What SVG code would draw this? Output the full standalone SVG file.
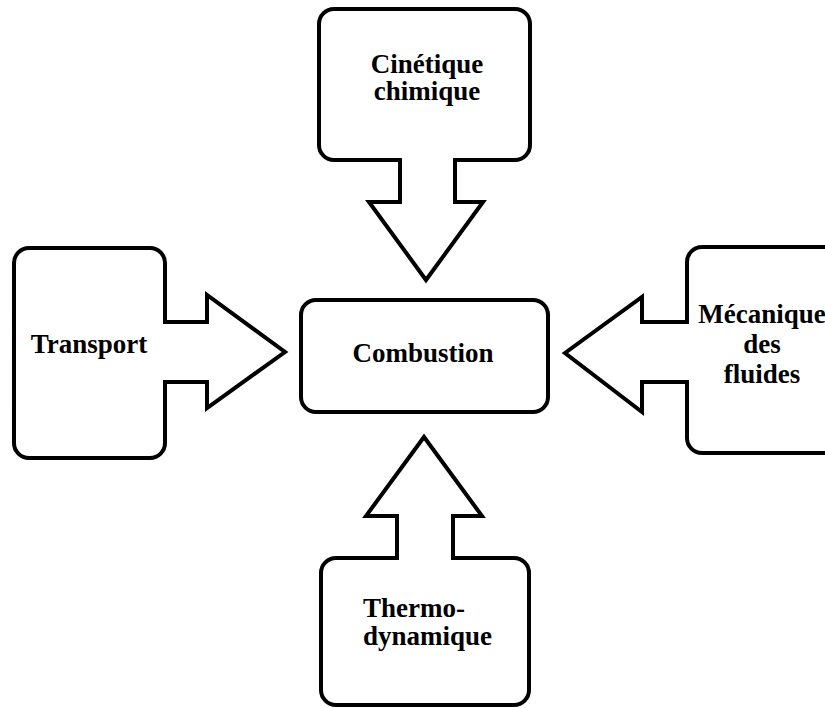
<svg xmlns="http://www.w3.org/2000/svg" width="825" height="708" viewBox="0 0 825 708">
<style>
.shape{fill:#fff;stroke:#000;stroke-width:4;stroke-linejoin:miter}
.lbl{font-family:"Liberation Serif","Times New Roman",serif;font-weight:bold;font-size:27px;fill:#000}
.c{text-anchor:middle}
</style>
<rect width="825" height="708" fill="#fff"/>
<g id="connectors"></g>
<g id="cinetique">
<path class="shape" d="M334,9 H515 A15,15 0 0 1 530,24 V145 A15,15 0 0 1 515,160 H455 V202 H483 L426,280 L369,202 H400 V160 H334 A15,15 0 0 1 319,145 V24 A15,15 0 0 1 334,9 Z"/>
<text class="lbl c" x="427" y="73">Cinétique</text>
<text class="lbl c" x="427" y="100">chimique</text>
</g>
<g id="transport">
<path class="shape" d="M29,248 H150 A15,15 0 0 1 165,263 V322 H207 V295 L285,352 L207,408 V382 H165 V443 A15,15 0 0 1 150,458 H29 A15,15 0 0 1 14,443 V263 A15,15 0 0 1 29,248 Z"/>
<text class="lbl c" x="89" y="353">Transport</text>
</g>
<g id="mecanique">
<path class="shape" d="M702,247 H845 V453 H702 A15,15 0 0 1 687,438 V382 H642 V412 L565,353 L642,297 V322 H687 V262 A15,15 0 0 1 702,247 Z"/>
<text class="lbl c" x="762" y="323">Mécanique</text>
<text class="lbl c" x="762" y="353">des</text>
<text class="lbl c" x="762" y="383">fluides</text>
</g>
<g id="thermodynamique">
<path class="shape" d="M336,558 H397 V516 H366 L424,437 L482,516 H453 V558 H514 A15,15 0 0 1 529,573 V690 A15,15 0 0 1 514,705 H336 A15,15 0 0 1 321,690 V573 A15,15 0 0 1 336,558 Z"/>
<text class="lbl" x="363" y="617">Thermo-</text>
<text class="lbl" x="363" y="645">dynamique</text>
</g>
<g id="combustion">
<rect class="shape" x="301" y="300" width="247" height="112" rx="15" ry="15"/>
<text class="lbl c" x="423" y="362">Combustion</text>
</g>
</svg>
